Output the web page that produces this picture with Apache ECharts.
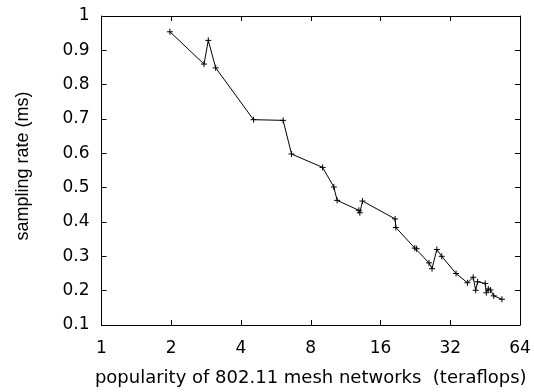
<!DOCTYPE html>
<html>
<head>
<meta charset="utf-8">
<script src="https://cdn.jsdelivr.net/npm/echarts@6/dist/echarts.min.js"></script>
<style>
  html, body { margin: 0; padding: 0; background: #fff; }
  #chart { width: 534px; height: 392px; }
</style>
</head>
<body>
<div id="chart"></div>
<script>
// popularity (teraflops), log2 axis
const popularity = [1.974, 2.77, 2.89, 3.11, 4.53, 6.08, 6.61, 9.0, 10.06, 10.4,
  12.9, 13.03, 13.38, 18.5, 18.63, 22.5, 22.9, 25.9, 26.7, 28.0,
  29.4, 33.9, 37.95, 40.2, 41.2, 42.0, 45.3, 45.8, 46.7, 47.7, 49.3, 53.5]
// sampling rate (ms)
const samplingRate = [0.954, 0.860, 0.929, 0.849, 0.698, 0.696, 0.598, 0.559, 0.502, 0.463,
  0.434, 0.427, 0.461, 0.409, 0.384, 0.324, 0.322, 0.281, 0.264, 0.320,
  0.300, 0.250, 0.223, 0.239, 0.201, 0.226, 0.221, 0.194, 0.205, 0.202, 0.185, 0.175]

const xTicks = [1, 2, 4, 8, 16, 32, 64]

const chart = echarts.init(document.getElementById('chart'), null, { renderer: 'canvas' })

// reference text is a bit wide, DejaVu fits the horizontal labels better
const wide = '"DejaVu Sans", sans-serif'
const narrow = '"Liberation Sans", Arial, sans-serif'
const axisLine = { show: true, lineStyle: { color: '#000', width: 1 } }
const tick = { show: true, inside: true, length: 5, lineStyle: { color: '#000', width: 1 } }

chart.setOption({
  animation: false,
  backgroundColor: '#fff',
  grid: { left: 101.5, right: 14, top: 16, bottom: 66 },
  xAxis: [
    {
      type: 'log',
      logBase: 2,
      min: 1,
      max: 64,
      name: 'popularity of 802.11 mesh networks  (teraflops)',
      nameLocation: 'middle',
      nameGap: 44,
      nameTextStyle: { color: '#000', fontSize: 18, fontFamily: wide },
      axisLine,
      axisTick: tick,
      splitLine: { show: false },
      axisLabel: {
        color: '#000', fontSize: 17, fontFamily: wide, margin: 15,
        formatter: v => (xTicks.includes(Math.round(v)) ? String(Math.round(v)) : '')
      }
    },
    {
      type: 'log',
      logBase: 2,
      min: 1,
      max: 64,
      position: 'top',
      axisLine,
      axisTick: tick,
      axisLabel: { show: false },
      splitLine: { show: false }
    }
  ],
  yAxis: [
    {
      type: 'value',
      min: 0.1,
      max: 1,
      interval: 0.1,
      name: 'sampling rate (ms)',
      nameLocation: 'middle',
      nameGap: 69,
      nameTextStyle: { color: '#000', fontSize: 18, fontFamily: narrow, padding: [0, 0, 0, 9] },
      axisLine,
      axisTick: tick,
      splitLine: { show: false },
      axisLabel: {
        color: '#000', fontSize: 17, fontFamily: wide, margin: 12,
        formatter: v => String(Math.round(v * 10) / 10)
      }
    },
    {
      type: 'value',
      min: 0.1,
      max: 1,
      interval: 0.1,
      position: 'right',
      axisLine,
      axisTick: tick,
      axisLabel: { show: false },
      splitLine: { show: false }
    }
  ],
  series: [
    {
      type: 'line',
      data: popularity.map((x, i) => [x, samplingRate[i]]),
      symbol: 'path://M5,0L5,10M0,5L10,5',
      symbolSize: 6,
      lineStyle: { color: '#000', width: 1 },
      itemStyle: { color: 'none', borderColor: '#000', borderWidth: 1 }
    }
  ]
})
</script>
</body>
</html>
